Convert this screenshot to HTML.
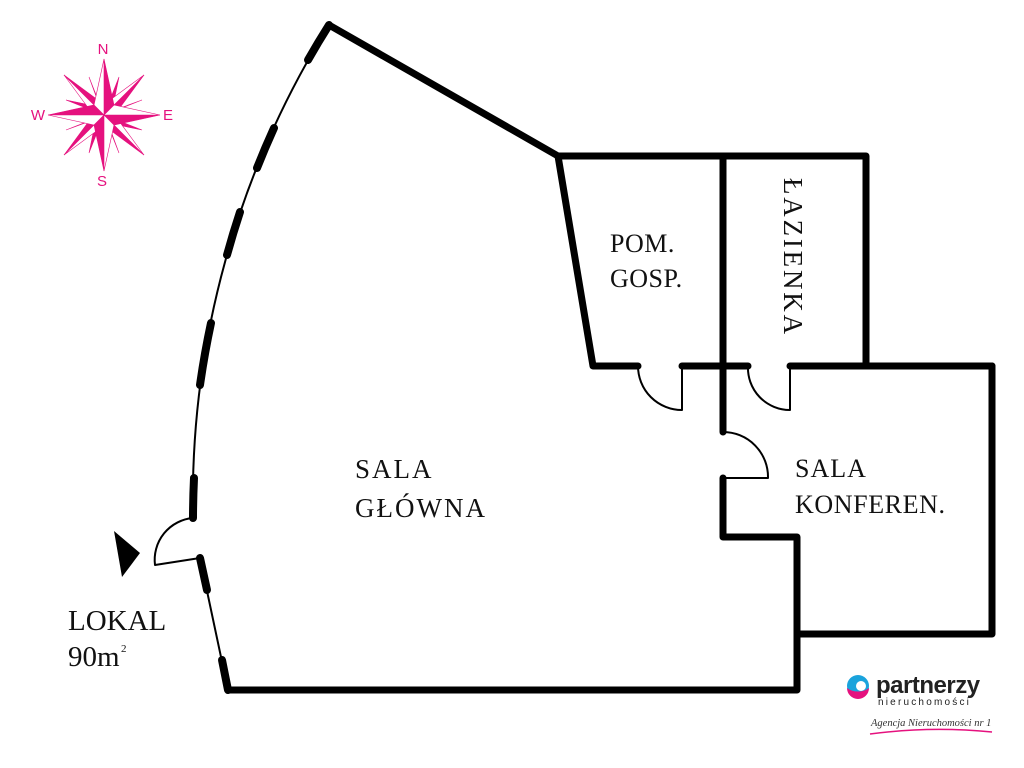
<!DOCTYPE html>
<html><head><meta charset="utf-8"><style>
html,body{margin:0;padding:0;background:#fff;}
svg{display:block;}
.t{font-family:"Liberation Serif",serif;fill:#111;}
</style></head><body>
<svg width="1024" height="768" viewBox="0 0 1024 768" xmlns="http://www.w3.org/2000/svg">
<g fill="none" stroke="#000" stroke-linecap="round" stroke-linejoin="round">
<path d="M329 25 A897 897 0 0 0 193 518" stroke-width="2"/>
<path d="M200 558 L228 690" stroke-width="2"/>
<g stroke-width="8">
<path d="M329 25 A897 897 0 0 0 308 60"/>
<path d="M274 128 A897 897 0 0 0 257 168"/>
<path d="M240 212 A897 897 0 0 0 227 255"/>
<path d="M211 323 A897 897 0 0 0 200 385"/>
<path d="M194 478 A897 897 0 0 0 193 518"/>
<path d="M200 558 L207 590"/>
<path d="M222 660 L228 690"/>
</g>
<g stroke-width="7" stroke-linecap="round">
<polyline points="329,25 558,156 866,156 866,366"/>
<polyline points="558,156 593,366 638,366"/>
<line x1="682" y1="366" x2="748" y2="366"/>
<line x1="790" y1="366" x2="992" y2="366"/>
<polyline points="992,366 992,634 797,634"/>
<line x1="723" y1="156" x2="723" y2="432"/>
<polyline points="723,478 723,537 797,537 797,690 228,690"/>
</g>
<g stroke-width="2">
<path d="M638 366 A44 44 0 0 0 682 410 L682 366"/>
<path d="M748 366 A42 42 0 0 0 790 410 L790 366"/>
<path d="M723 432 A45 45 0 0 1 768 478 L723 478"/>
<path d="M193 518 A42 42 0 0 0 155 565 L200 558"/>
</g>
</g>
<polygon points="114,531 140,553 122,577" fill="#000"/>
<g class="t">
<text x="355" y="478" font-size="27" letter-spacing="2">SALA</text>
<text x="355" y="517" font-size="27" letter-spacing="2">GŁÓWNA</text>
<text x="610" y="252" font-size="26" letter-spacing="0.5">POM.</text>
<text x="610" y="287" font-size="26" letter-spacing="0.5">GOSP.</text>
<text transform="translate(784,178) rotate(90)" font-size="27" letter-spacing="2.8">ŁAZIENKA</text>
<text x="795" y="477" font-size="26" letter-spacing="1">SALA</text>
<text x="795" y="513" font-size="26" letter-spacing="0.6">KONFEREN.</text>
<text x="68" y="630" font-size="29">LOKAL</text>
<text x="68" y="666" font-size="29">90m</text>
<text x="121" y="652" font-size="11">2</text>
</g>
<g transform="translate(104,115)" stroke="#e5117e" stroke-width="0.6">
<g fill="#e5117e">
<polygon points="15,-38 8,-4 0,0"/><polygon points="-15,38 -8,4 0,0"/>
<polygon points="38,15 4,8 0,0"/><polygon points="-38,-15 -4,-8 0,0"/>
<polygon points="-15,-38 -4,-8 0,0"/><polygon points="15,38 4,8 0,0"/>
<polygon points="38,-15 8,-4 0,0"/><polygon points="-38,15 -8,4 0,0"/>
<polygon points="40,-40 12,-2 0,0"/><polygon points="-40,40 -12,2 0,0"/>
<polygon points="40,40 2,12 0,0"/><polygon points="-40,-40 -2,-12 0,0"/>
</g>
<g fill="#fff">
<polygon points="40,-40 2,-12 0,0"/><polygon points="-40,40 -2,12 0,0"/>
<polygon points="40,40 12,2 0,0"/><polygon points="-40,-40 -12,-2 0,0"/>
</g>
<g fill="#e5117e">
<polygon points="0,-56 10,-10 0,0"/><polygon points="0,56 -10,10 0,0"/>
<polygon points="56,0 10,10 0,0"/><polygon points="-56,0 -10,-10 0,0"/>
</g>
<g fill="#fff">
<polygon points="0,-56 -10,-10 0,0"/><polygon points="0,56 10,10 0,0"/>
<polygon points="56,0 10,-10 0,0"/><polygon points="-56,0 -10,10 0,0"/>
</g>
</g>
<g font-family="Liberation Sans,sans-serif" font-size="15" fill="#e5117e" text-anchor="middle">
<text x="103" y="54">N</text><text x="102" y="186">S</text>
<text x="38" y="120">W</text><text x="168" y="120">E</text>
</g>
<circle cx="858" cy="686" r="11" fill="#1aa3dc"/>
<path d="M847 688 A11 11 0 0 0 869 688 A15 11 0 0 1 847 688Z" fill="#e5117e"/>
<circle cx="861" cy="686" r="5" fill="#fff"/>
<text x="876" y="693" font-family="Liberation Sans,sans-serif" font-weight="bold" font-size="24" fill="#222" letter-spacing="-0.5">partnerzy</text>
<text x="878" y="705" font-family="Liberation Sans,sans-serif" font-size="10" fill="#222" letter-spacing="2.2">nieruchomości</text>
<text x="871" y="726" font-family="Liberation Serif,serif" font-style="italic" font-size="10.5" fill="#333">Agencja Nieruchomości nr 1</text>
<path d="M870 734 Q930 726 992 732" stroke="#e5117e" stroke-width="1.5" fill="none"/>
</svg>
</body></html>
